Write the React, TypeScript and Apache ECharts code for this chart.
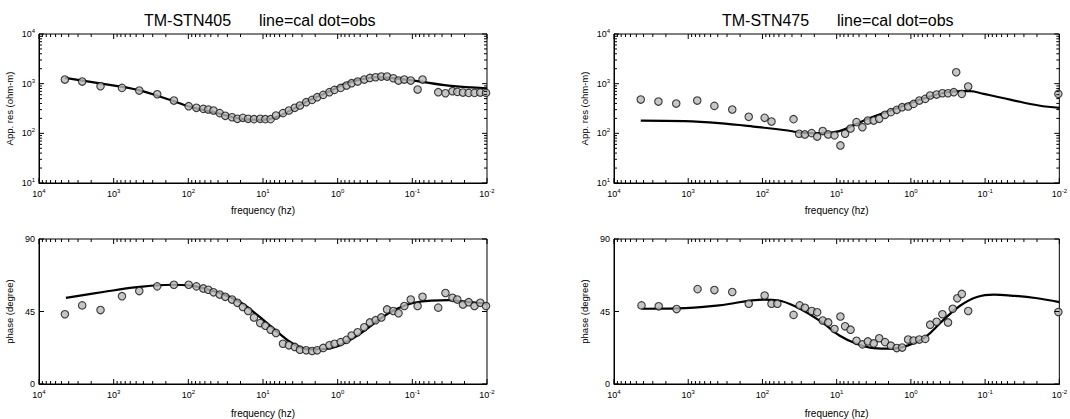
import React, { useEffect, useRef } from "react";
import * as echarts from "echarts";

const FONT = '"Liberation Sans", Arial, Helvetica, sans-serif';

// ---------- Site TM-STN405 ----------
const freq405 = [4500, 2640, 1500, 774, 454, 261, 156, 99, 78, 63, 54, 46, 38, 32, 26, 22, 18.6, 15.8, 13.2, 10.9, 9.3, 7.9, 6.7, 5.4, 4.5, 3.75, 3.2, 2.64, 2.2, 1.88, 1.56, 1.29, 1.1, 0.91, 0.76, 0.65, 0.54, 0.44, 0.37, 0.31, 0.26, 0.218, 0.18, 0.153, 0.128, 0.105, 0.085, 0.073, 0.045, 0.036, 0.029, 0.025, 0.021, 0.0176, 0.0147, 0.0123, 0.0103];
const rho405 = [1208, 1102, 888, 822, 726, 613, 457, 352, 326, 311, 302, 288, 255, 225, 211, 196, 205, 196, 193, 196, 193, 193, 228, 255, 288, 326, 363, 424, 472, 534, 595, 673, 750, 822, 915, 1021, 1102, 1208, 1306, 1347, 1389, 1389, 1285, 1153, 1208, 1153, 761, 1208, 673, 642, 705, 684, 663, 652, 652, 663, 652];
const phase405 = [43.3, 48.8, 45.9, 54.5, 57.7, 60.6, 61.6, 61.6, 60.6, 59.3, 58.5, 56.9, 55.5, 54.1, 52.4, 50.4, 47.8, 45.3, 41.3, 37.8, 36.2, 33.7, 31.7, 25, 24, 23, 21.3, 20.9, 20.5, 20.9, 22.4, 24, 25, 26, 27.4, 30.1, 32.1, 35.2, 38.2, 39.6, 41.3, 46.3, 45.3, 43.9, 48.4, 52.4, 48.4, 54.1, 47.4, 56.5, 53.5, 52.4, 49.4, 50.8, 48.4, 50.4, 48.4];
const calFreqRho405 = [4500, 1390, 480, 165, 97, 46, 19.6, 10.3, 6.7, 3.95, 2.32, 1.36, 0.8, 0.47, 0.306, 0.2, 0.095, 0.0327, 0.01];
const calRho405 = [1306, 990, 750, 457, 347, 267, 196, 187, 211, 311, 472, 673, 990, 1227, 1347, 1306, 1153, 916, 809];
const calFreqPhase405 = [4360, 1390, 480, 165, 97, 57, 33.3, 19.6, 11.5, 6.7, 3.95, 2.32, 1.36, 0.8, 0.47, 0.275, 0.161, 0.095, 0.0556, 0.0327, 0.0191, 0.01];
const calPhase405 = [53.5, 57.1, 60.1, 61.6, 61.2, 58.9, 55.5, 50.4, 42.3, 33.1, 25, 21.5, 21.9, 25.6, 32.1, 40.2, 46.7, 50.4, 51.8, 52, 51, 49.8];

// ---------- Site TM-STN475 ----------
const freqRho475 = [4360, 2520, 1450, 756, 444, 255, 153, 93.4, 75.5, 38.1, 32.1, 26.8, 21.7, 18.3, 15.4, 13, 10.7, 8.9, 7.7, 6.5, 5.4, 4.5, 3.8, 3.17, 2.67, 2.23, 1.86, 1.55, 1.31, 1.09, 0.92, 0.77, 0.64, 0.55, 0.45, 0.376, 0.316, 0.264, 0.245, 0.206, 0.169, 0.0103];
const rho475 = [478, 436, 398, 457, 357, 302, 215, 205, 173, 193, 98, 95, 101, 86, 111, 95, 91, 57, 98, 125, 168, 133, 181, 181, 196, 236, 267, 297, 336, 347, 392, 457, 494, 577, 604, 642, 642, 673, 1700, 623, 875, 623];
const freqPhase475 = [4260, 2500, 1435, 748, 444, 255, 153, 93.4, 75.5, 63, 38.1, 31.5, 26.8, 21.7, 18.3, 15.4, 13, 10.7, 8.9, 7.7, 6.5, 5.4, 4.5, 3.8, 3.17, 2.67, 2.23, 1.86, 1.55, 1.31, 1.09, 0.92, 0.77, 0.64, 0.55, 0.45, 0.376, 0.316, 0.273, 0.237, 0.206, 0.169, 0.0103];
const phase475 = [48.8, 48.2, 46.5, 58.9, 58.3, 57.1, 49.8, 54.9, 49.8, 49.8, 42.9, 48.8, 47.3, 45.3, 44.5, 39.4, 38.2, 34.1, 41.9, 35.8, 33.7, 26.8, 24.6, 26.4, 25.2, 28.4, 26, 23.8, 22.3, 22.6, 27.6, 27, 27.6, 28, 36.8, 38.6, 43.3, 38.2, 46.7, 53.2, 55.9, 45.3, 44.7];
const calFreqRho475 = [4360, 1122, 386, 133, 45.7, 26.8, 15.7, 9.2, 5.4, 3.17, 1.86, 1.09, 0.64, 0.376, 0.22, 0.16, 0.104, 0.0445, 0.0189, 0.01];
const calRho475 = [181, 176, 160, 137, 114, 101, 101, 111, 156, 218, 288, 392, 517, 642, 705, 705, 623, 472, 363, 326];
const calFreqPhase475 = [4260, 1390, 386, 93.4, 63, 33.2, 15.7, 9.2, 5.4, 3.17, 1.86, 1.09, 0.64, 0.376, 0.22, 0.129, 0.0758, 0.0445, 0.021, 0.01];
const calPhase475 = [46.7, 46.9, 48.8, 52.4, 52.0, 47.3, 38.2, 30.1, 25, 22.3, 21.9, 24, 29.1, 39.2, 48.4, 54.0, 55.5, 54.9, 53.4, 50.8];

// ---------- ticks & labels ----------
const siteNames = ["TM-STN405", "TM-STN475"];
const subtitle = "line=cal dot=obs";
const xName = "frequency (hz)";
const rhoName = "App. res (ohm-m)";
const phaseName = "phase (degree)";
const decades = [0.01, 0.1, 1, 10, 100, 1000];
const xMajorTicks = [0.01, 0.1, 1, 10, 100, 1000, 10000];
const xMinorTicks: number[] = [];
decades.forEach((d) => [2, 3, 4, 5, 6, 7, 8, 9].forEach((m) => xMinorTicks.push(+(d * m).toPrecision(3))));
const rhoMajorTicks = [10, 100, 1000, 10000];
const rhoMinorTicks: number[] = [];
[10, 100, 1000].forEach((d) => [2, 3, 4, 5, 6, 7, 8, 9].forEach((m) => rhoMinorTicks.push(d * m)));
const phaseMajorTicks = [0, 45, 90];

const zip = (a: number[], b: number[]) => a.map((v, i) => [v, b[i]]);

function tickSeries(idx: number, yMaj: number[], yMin: number[], yLo: number, yHi: number) {
  return {
    type: "custom",
    xAxisIndex: idx,
    yAxisIndex: idx,
    silent: true,
    clip: false,
    z: 10,
    data: [[1, yMaj[1]]],
    renderItem: function (_p: any, api: any) {
      const ch: any[] = [];
      const seg = (x1: number, y1: number, x2: number, y2: number) => {
        ch.push({ type: "line", shape: { x1: x1, y1: y1, x2: x2, y2: y2 }, style: { stroke: "#000", lineWidth: 1 } });
      };
      const pt = (x: number, y: number): [number, number] => {
        const p = api.coord([x, y]);
        return [p[0], p[1]];
      };
      const xs: [number[], number][] = [
        [xMajorTicks, 5],
        [xMinorTicks, 3],
      ];
      xs.forEach(([arr, len]) =>
        arr.forEach((t) => {
          const b = pt(t, yLo);
          const tp = pt(t, yHi);
          seg(b[0], b[1], b[0], b[1] - len);
          seg(tp[0], tp[1], tp[0], tp[1] + len);
        })
      );
      const ys: [number[], number][] = [
        [yMaj, 5],
        [yMin, 3],
      ];
      ys.forEach(([arr, len]) =>
        arr.forEach((t) => {
          const l = pt(10000, t);
          const r = pt(0.01, t);
          seg(l[0], l[1], l[0] + len, l[1]);
          seg(r[0], r[1], r[0] - len, r[1]);
        })
      );
      return { type: "group", children: ch };
    },
  };
}

const powLabel = (v: number) => {
  const e = Math.round(Math.log10(v));
  return `{b|10}{e|${e}}`;
};
const richLabel = {
  b: { fontSize: 9, fontFamily: FONT, color: "#000", lineHeight: 12 },
  e: { fontSize: 6, fontFamily: FONT, color: "#000", verticalAlign: "top", lineHeight: 12 },
};

const grids = [
  { left: 39, top: 34, width: 448, height: 149 },
  { left: 614, top: 34, width: 448, height: 149 },
  { left: 39, top: 239, width: 448, height: 147 },
  { left: 614, top: 239, width: 448, height: 147 },
];

export default function App() {
  const ref = useRef<HTMLDivElement>(null);
  useEffect(() => {
    if (!ref.current) return;
    const chart = echarts.init(ref.current, null, { renderer: "svg" });
    const xAxes = grids.map((_, i) => ({
      type: "log",
      logBase: 10,
      gridIndex: i,
      min: 0.01,
      max: 10000,
      inverse: true,
      name: xName,
      nameLocation: "middle",
      nameGap: i < 2 ? 22 : 24,
      nameTextStyle: { fontSize: 10, fontFamily: FONT, color: "#000" },
      axisLine: { show: true, lineStyle: { color: "#000", width: 1 } },
      axisTick: { show: false },
      splitLine: { show: false },
      minorTick: { show: false },
      axisLabel: { formatter: powLabel, rich: richLabel, margin: 5, showMinLabel: true, showMaxLabel: true },
    }));
    const yAxes = grids.map((_, i) =>
      i < 2
        ? {
            type: "log",
            logBase: 10,
            gridIndex: i,
            min: 10,
            max: 10000,
            name: rhoName,
            nameLocation: "middle",
            nameGap: 25,
            nameTextStyle: { fontSize: 9.5, fontFamily: FONT, color: "#000" },
            axisLine: { show: true, lineStyle: { color: "#000", width: 1 } },
            axisTick: { show: false },
            splitLine: { show: false },
            axisLabel: { formatter: powLabel, rich: richLabel, margin: 4 },
          }
        : {
            type: "value",
            gridIndex: i,
            min: 0,
            max: 90,
            interval: 45,
            name: phaseName,
            nameLocation: "middle",
            nameGap: 25,
            nameTextStyle: { fontSize: 9.5, fontFamily: FONT, color: "#000" },
            axisLine: { show: true, lineStyle: { color: "#000", width: 1 } },
            axisTick: { show: false },
            splitLine: { show: false },
            axisLabel: { fontSize: 9, fontFamily: FONT, color: "#000", margin: 4 },
          }
    );
    const obsStyle = { color: "#b8b8b8", borderColor: "#111", borderWidth: 1.1 };
    const lineSeries = (idx: number, data: number[][]) => ({
      type: "line",
      xAxisIndex: idx,
      yAxisIndex: idx,
      data,
      smooth: 0.4,
      showSymbol: false,
      lineStyle: { color: "#000", width: 2.2 },
      z: 2,
    });
    const dotSeries = (idx: number, data: number[][]) => ({
      type: "scatter",
      xAxisIndex: idx,
      yAxisIndex: idx,
      data,
      symbol: "circle",
      symbolSize: 7.5,
      itemStyle: obsStyle,
      z: 3,
    });
    const titleStyle = { fontSize: 16, fontWeight: "normal", fontFamily: FONT, color: "#000" };
    chart.setOption({
      animation: false,
      backgroundColor: "#fff",
      title: [
        { text: siteNames[0], left: 144, top: 12, padding: 0, textStyle: titleStyle },
        { text: subtitle, left: 259, top: 12, padding: 0, textStyle: titleStyle },
        { text: siteNames[1], left: 722, top: 12, padding: 0, textStyle: titleStyle },
        { text: subtitle, left: 837, top: 12, padding: 0, textStyle: titleStyle },
      ],
      grid: grids.map((g) => ({ ...g, show: true, borderColor: "#000", borderWidth: 1, backgroundColor: "transparent" })),
      xAxis: xAxes,
      yAxis: yAxes,
      series: [
        lineSeries(0, zip(calFreqRho405, calRho405)),
        dotSeries(0, zip(freq405, rho405)),
        lineSeries(1, zip(calFreqRho475, calRho475)),
        dotSeries(1, zip(freqRho475, rho475)),
        lineSeries(2, zip(calFreqPhase405, calPhase405)),
        dotSeries(2, zip(freq405, phase405)),
        lineSeries(3, zip(calFreqPhase475, calPhase475)),
        dotSeries(3, zip(freqPhase475, phase475)),
        tickSeries(0, rhoMajorTicks, rhoMinorTicks, 10, 10000),
        tickSeries(1, rhoMajorTicks, rhoMinorTicks, 10, 10000),
        tickSeries(2, phaseMajorTicks, [], 0, 90),
        tickSeries(3, phaseMajorTicks, [], 0, 90),
      ],
    });
    return () => chart.dispose();
  }, []);
  return <div ref={ref} style={{ position: "absolute", left: 0, top: 0, width: 1070, height: 419 }} />;
}
